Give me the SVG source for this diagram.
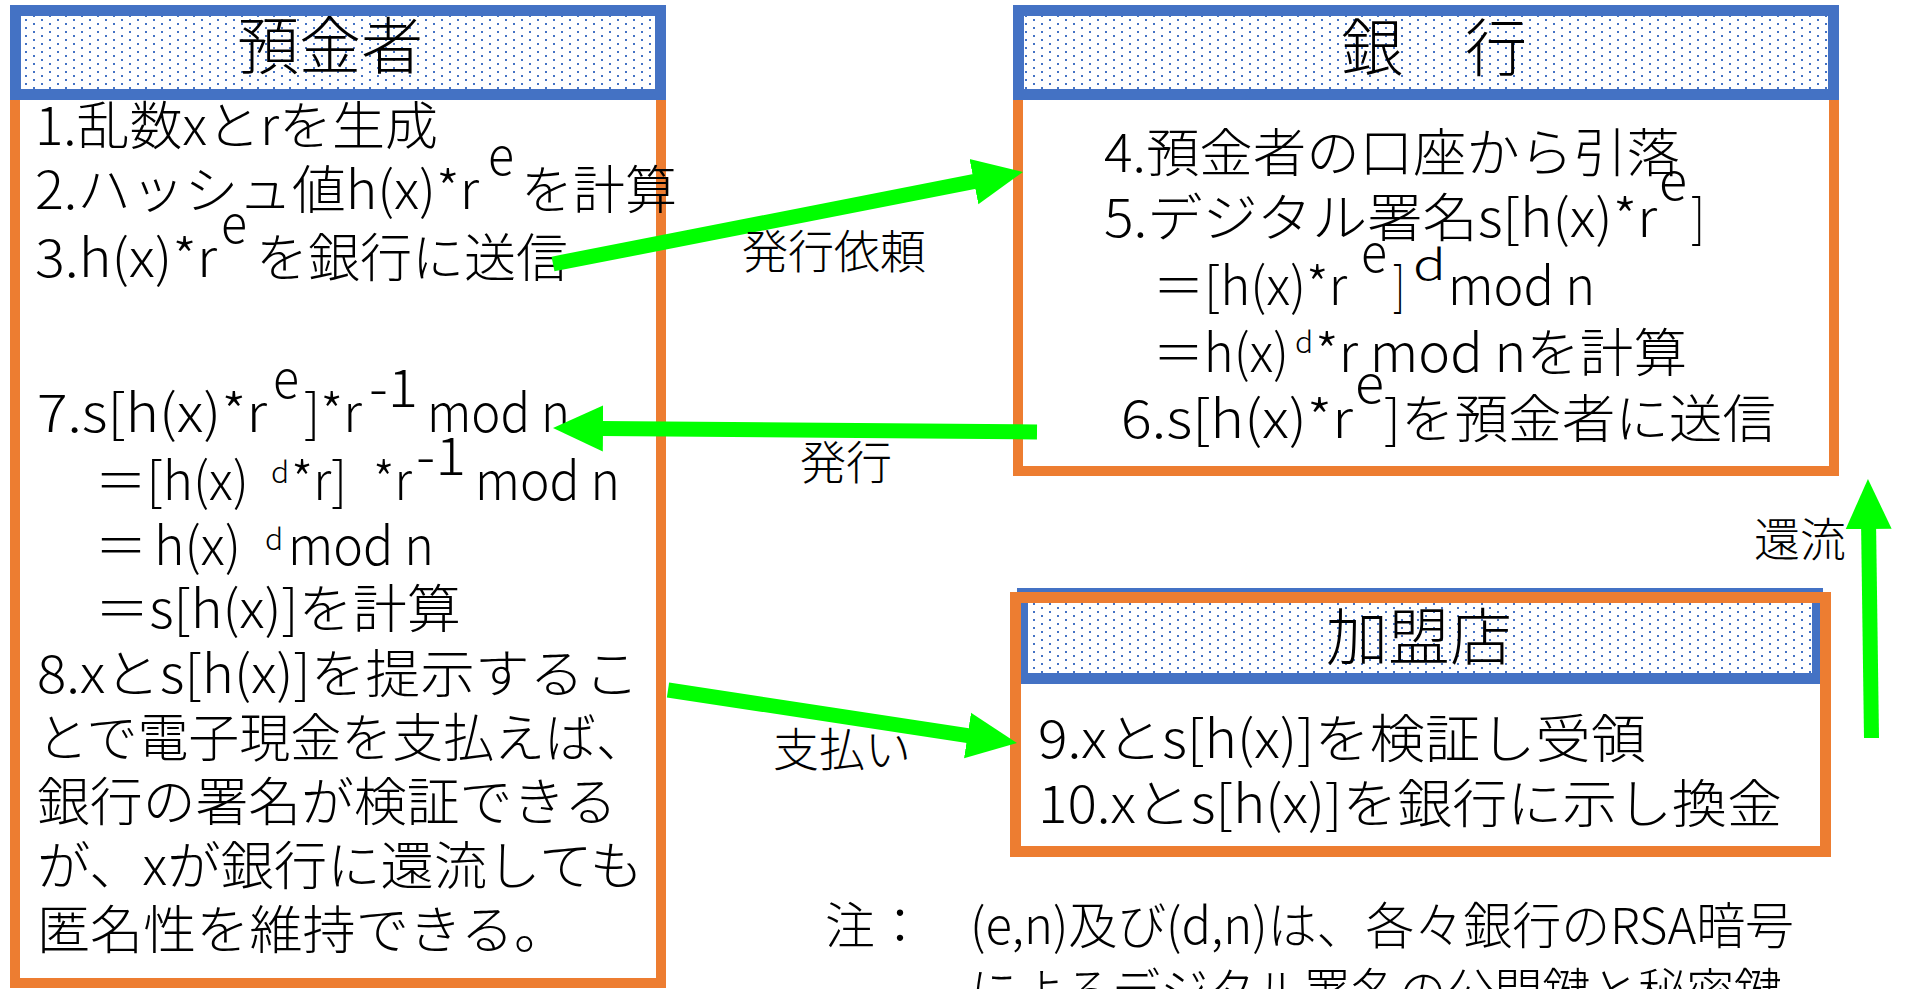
<svg xmlns="http://www.w3.org/2000/svg" width="1906" height="989" viewBox="0 0 1906 989">
<style>
.t{font-family:"Noto Sans CJK JP","Noto Sans CJK SC",sans-serif;fill:#000;font-size:52px;font-weight:300}
.h{font-size:62px;text-anchor:middle}
.lb{font-size:46px;text-anchor:middle}
.sm{font-size:30px}
.body{fill:none;stroke:#ED7D31;stroke-width:10}
.mbody{fill:none;stroke:#ED7D31;stroke-width:11}
.head{fill:url(#dots);stroke:#4472C4;stroke-width:11}
.arr{stroke:#00FF00;stroke-width:15;fill:none;marker-end:url(#ah)}
</style>
<defs>
<pattern id="dots" width="16" height="8" patternUnits="userSpaceOnUse">
<rect width="16" height="8" fill="#fff"/>
<rect x="9" y="3" width="2" height="2" fill="#4472C4"/>
<rect x="1" y="7" width="2" height="1" fill="#4472C4"/>
<rect x="1" y="0" width="2" height="1" fill="#4472C4"/>
</pattern>
<marker id="ah" markerUnits="userSpaceOnUse" markerWidth="52" markerHeight="48" refX="2" refY="24" orient="auto" viewBox="0 0 52 48">
<path d="M0,1 L50,24 L0,47 z" fill="#00FF00"/>
</marker>
</defs>
<rect width="1906" height="989" fill="#fff"/>

<g id="depositor">
<rect class="body" x="15" y="95" width="646" height="888"/>
<rect class="head" x="15.5" y="10.5" width="645" height="84"/>
<text class="t h" x="330" y="69">預金者</text>
<text class="t" x="35" y="145" textLength="403" lengthAdjust="spacingAndGlyphs">1.乱数xとrを生成</text>
<text class="t" x="35" y="209" textLength="444" lengthAdjust="spacingAndGlyphs">2.ハッシュ値h(x)*r</text>
<text class="t" x="488" y="175" textLength="26" lengthAdjust="spacingAndGlyphs">e</text>
<text class="t" x="521" y="209">を計算</text>
<text class="t" x="35" y="277" textLength="182" lengthAdjust="spacingAndGlyphs">3.h(x)*r</text>
<text class="t" x="221" y="243" textLength="26" lengthAdjust="spacingAndGlyphs">e</text>
<text class="t" x="256" y="277" textLength="312" lengthAdjust="spacingAndGlyphs">を銀行に送信</text>
<text class="t" x="37" y="432" textLength="230" lengthAdjust="spacingAndGlyphs">7.s[h(x)*r</text>
<text class="t" x="273" y="398" textLength="26" lengthAdjust="spacingAndGlyphs">e</text>
<text class="t" x="304" y="432" textLength="58" lengthAdjust="spacingAndGlyphs">]*r</text>
<text class="t" x="369" y="407" textLength="49" lengthAdjust="spacingAndGlyphs">-1</text>
<text class="t" x="427" y="432" textLength="143" lengthAdjust="spacingAndGlyphs">mod n</text>
<text class="t" x="95" y="500" textLength="154" lengthAdjust="spacingAndGlyphs">＝[h(x)</text>
<text class="t sm" x="271" y="483">d</text>
<text class="t" x="291" y="500" textLength="56" lengthAdjust="spacingAndGlyphs">*r]</text>
<text class="t" x="373" y="500" textLength="39" lengthAdjust="spacingAndGlyphs">*r</text>
<text class="t" x="416" y="475" textLength="50" lengthAdjust="spacingAndGlyphs">-1</text>
<text class="t" x="475" y="500" textLength="145" lengthAdjust="spacingAndGlyphs">mod n</text>
<text class="t" x="95" y="565">＝</text>
<text class="t" x="154" y="565" textLength="87" lengthAdjust="spacingAndGlyphs">h(x)</text>
<text class="t sm" x="265" y="550">d</text>
<text class="t" x="288" y="565" textLength="146" lengthAdjust="spacingAndGlyphs">mod n</text>
<text class="t" x="95" y="628" textLength="366" lengthAdjust="spacingAndGlyphs">＝s[h(x)]を計算</text>
<text class="t" x="37" y="693" textLength="602" lengthAdjust="spacingAndGlyphs">8.xとs[h(x)]を提示するこ</text>
<text class="t" x="37" y="757" textLength="610" lengthAdjust="spacingAndGlyphs">とで電子現金を支払えば、</text>
<text class="t" x="37" y="821" textLength="580" lengthAdjust="spacingAndGlyphs">銀行の署名が検証できる</text>
<text class="t" x="37" y="885" textLength="606" lengthAdjust="spacingAndGlyphs">が、xが銀行に還流しても</text>
<text class="t" x="37" y="949" textLength="530" lengthAdjust="spacingAndGlyphs">匿名性を維持できる。</text>
</g>

<g id="bank">
<rect class="body" x="1018" y="95" width="816" height="376"/>
<rect class="head" x="1018.5" y="10.5" width="815" height="84"/>
<text class="t h" x="1434" y="71">銀　行</text>
<text class="t" x="1104" y="172" textLength="576" lengthAdjust="spacingAndGlyphs">4.預金者の口座から引落</text>
<text class="t" x="1104" y="237" textLength="553" lengthAdjust="spacingAndGlyphs">5.デジタル署名s[h(x)*r</text>
<text class="t" x="1659" y="200" textLength="28" lengthAdjust="spacingAndGlyphs">e</text>
<text class="t" x="1691" y="237" textLength="14" lengthAdjust="spacingAndGlyphs">]</text>
<text class="t" x="1153" y="305" textLength="194" lengthAdjust="spacingAndGlyphs">＝[h(x)*r</text>
<text class="t" x="1361" y="272" textLength="26" lengthAdjust="spacingAndGlyphs">e</text>
<text class="t" x="1393" y="305" textLength="12" lengthAdjust="spacingAndGlyphs">]</text>
<text class="t" x="1413" y="280" style="font-size:42px" textLength="33" lengthAdjust="spacingAndGlyphs">d</text>
<text class="t" x="1448" y="305" textLength="147" lengthAdjust="spacingAndGlyphs">mod n</text>
<text class="t" x="1153" y="372" textLength="136" lengthAdjust="spacingAndGlyphs">＝h(x)</text>
<text class="t sm" x="1295" y="353">d</text>
<text class="t" x="1315" y="372" textLength="372" lengthAdjust="spacingAndGlyphs">*r mod nを計算</text>
<text class="t" x="1121" y="438" textLength="232" lengthAdjust="spacingAndGlyphs">6.s[h(x)*r</text>
<text class="t" x="1355" y="403" textLength="29" lengthAdjust="spacingAndGlyphs">e</text>
<text class="t" x="1384" y="438" textLength="392" lengthAdjust="spacingAndGlyphs">]を預金者に送信</text>
</g>

<g id="merchant">
<rect class="head" x="1022.5" y="593.5" width="795" height="85"/>
<rect class="mbody" x="1015.5" y="597.5" width="810" height="254"/>
<text class="t h" x="1419" y="660">加盟店</text>
<text class="t" x="1038" y="758" textLength="608" lengthAdjust="spacingAndGlyphs">9.xとs[h(x)]を検証し受領</text>
<text class="t" x="1038" y="823" textLength="744" lengthAdjust="spacingAndGlyphs">10.xとs[h(x)]を銀行に示し換金</text>
</g>

<g id="note">
<text class="t" x="825" y="944" style="font-size:50px">注：</text>
<text class="t" x="970" y="944" style="font-size:50px" textLength="824" lengthAdjust="spacingAndGlyphs">(e,n)及び(d,n)は、各々銀行のRSA暗号</text>
<text class="t" x="970" y="1010" style="font-size:50px" textLength="812" lengthAdjust="spacingAndGlyphs">によるデジタル署名の公開鍵と秘密鍵</text>
</g>

<g id="connectors">
<line class="arr" x1="553" y1="264" x2="975.9" y2="181.2"/>
<line class="arr" x1="1037" y1="432" x2="601" y2="428.4"/>
<line class="arr" x1="668" y1="690" x2="969.5" y2="735.8"/>
<line class="arr" x1="1871.5" y1="738" x2="1868.6" y2="527"/>
<text class="t lb" x="834" y="268">発行依頼</text>
<text class="t lb" x="846" y="479">発行</text>
<text class="t lb" x="842" y="766">支払い</text>
<text class="t lb" x="1800" y="556">還流</text>
</g>
</svg>
